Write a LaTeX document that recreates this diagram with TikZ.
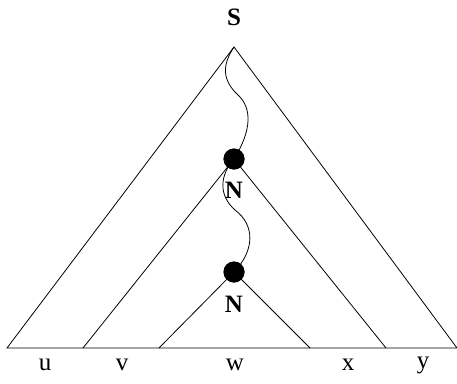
\documentclass[tikz,border=0pt]{standalone}
\usepackage{fontspec}
\setmainfont{Liberation Serif}
\begin{document}
\begin{tikzpicture}[x=1pt,y=-1pt,line width=0.8pt,
  dotnode/.style={circle,fill=black,inner sep=0pt,minimum size=21pt},
  sym/.style={font=\fontsize{25}{25}\selectfont\bfseries},
  term/.style={font=\fontsize{25}{25}\selectfont}]
\useasboundingbox (0,0) rectangle (457,383);
\coordinate (apex) at (234,47);
\coordinate (b0) at (7,348);
\coordinate (b1) at (83,348);
\coordinate (b2) at (159,348);
\coordinate (b3) at (310,348);
\coordinate (b4) at (386,348);
\coordinate (b5) at (457,348);
\node[dotnode] (d1) at (234,159) {};
\node[dotnode] (d2) at (234,272) {};
\node[sym] (S) at (234,17) {S};
\node[sym] (N1) at (234,190) {N};
\node[sym] (N2) at (234,304) {N};
\node[term] (u) at (45,365) {u};
\node[term] (v) at (122,365) {v};
\node[term] (w) at (235,365) {w};
\node[term] (x) at (348,365) {x};
\node[term] (y) at (423,365) {y};
\draw (b0) -- (apex) -- (b5) -- cycle;
\draw (b1) -- (d1.center) -- (b4);
\draw (b2) -- (d2.center) -- (b3);
\draw (apex) .. controls (222,65) and (222,80) .. (238,95)
  .. controls (252,108) and (252,130) .. (d1.center);
\draw (d1.center) .. controls (220,175) and (218,195) .. (235,210)
  .. controls (255,225) and (255,250) .. (d2.center);
\node[dotnode] at (d1) {};
\node[dotnode] at (d2) {};
\end{tikzpicture}
\end{document}
